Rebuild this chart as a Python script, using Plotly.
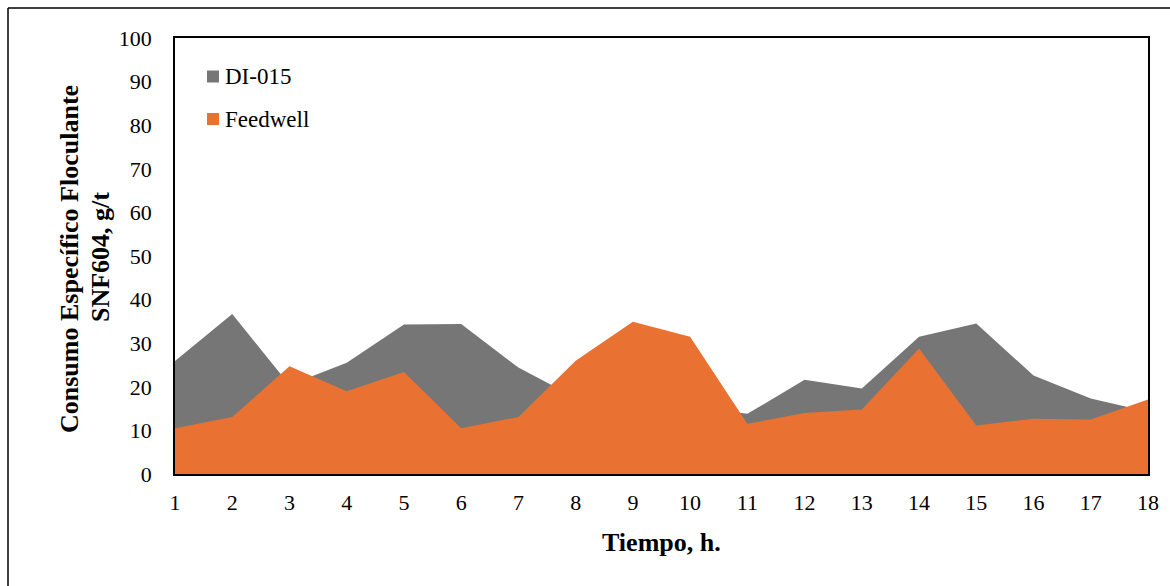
import plotly.graph_objects as go

# Hourly specific flocculant consumption (SNF604, g/t)
hours = list(range(1, 19))
di015 = [25.9, 36.7, 20.4, 25.5, 34.3, 34.4, 24.4, 17.5, 16.5, 15.5,
         13.8, 21.6, 19.6, 31.5, 34.5, 22.6, 17.3, 14.3]
feedwell = [10.5, 13.1, 24.7, 19.0, 23.4, 10.5, 13.1, 26.0, 34.9, 31.5,
            11.5, 14.0, 14.8, 28.8, 11.1, 12.7, 12.5, 17.1]

series_names = ["DI-015", "Feedwell"]
series_colors = ["#767676", "#E97132"]

W, H = 1170, 586
L, R, T, B = 175, 22, 38, 112
pw, ph = W - L - R, H - T - B


def px_x(px):
    return (px - L) / pw


def px_y(py):
    return (H - B - py) / ph


font_family = "Liberation Serif, Times New Roman, serif"

fig = go.Figure()
for name, vals, col in zip(series_names, [di015, feedwell], series_colors):
    fig.add_trace(go.Scatter(
        x=hours, y=vals, name=name, mode="lines",
        line=dict(width=0, color=col), fill="tozeroy", fillcolor=col,
        showlegend=False,
    ))

axis_common = dict(
    showline=True, linecolor="black", linewidth=1.5, mirror=True,
    showgrid=False, zeroline=False, ticks="",
    tickfont=dict(family=font_family, size=22, color="black"),
)

fig.update_xaxes(range=[1, 18], tickmode="array", tickvals=hours,
                 ticktext=[str(h) for h in hours], ticklabelstandoff=8,
                 **axis_common)
fig.update_yaxes(range=[0, 100], dtick=10, ticklabelstandoff=17,
                 **axis_common)

shapes = [
    # outer frame (left and top edges)
    dict(type="line", xref="paper", yref="paper",
         x0=px_x(8), x1=px_x(8), y0=px_y(8), y1=px_y(H + 5),
         line=dict(color="black", width=1.5)),
    dict(type="line", xref="paper", yref="paper",
         x0=px_x(8), x1=px_x(W + 5), y0=px_y(8), y1=px_y(8),
         line=dict(color="black", width=1.5)),
]

title_font = dict(family=font_family, size=26, color="black")
annotations = [
    dict(text="<b>Tiempo, h.</b>", xref="paper", yref="paper",
         x=0.5, y=px_y(542), showarrow=False, xanchor="center",
         yanchor="middle", font=title_font),
    dict(text="<b>Consumo Específico Floculante</b>",
         xref="paper", yref="paper", x=px_x(69), y=px_y(259),
         showarrow=False, textangle=-90, xanchor="center", yanchor="middle",
         font=title_font),
    dict(text="<b>SNF604, g/t</b>",
         xref="paper", yref="paper", x=px_x(100), y=px_y(257),
         showarrow=False, textangle=-90, xanchor="center", yanchor="middle",
         font=title_font),
]

# legend entries: coloured square + label
legend_y = [76.5, 119]
for name, col, ly in zip(series_names, series_colors, legend_y):
    shapes.append(dict(type="rect", xref="paper", yref="paper",
                       x0=px_x(207), x1=px_x(219),
                       y0=px_y(ly + 6), y1=px_y(ly - 6),
                       fillcolor=col, line=dict(width=0)))
    annotations.append(dict(text=name, xref="paper", yref="paper",
                            x=px_x(223), y=px_y(ly), showarrow=False,
                            xanchor="left", yanchor="middle",
                            font=dict(family=font_family, size=23, color="black")))

fig.update_layout(
    width=W, height=H,
    margin=dict(l=L, r=R, t=T, b=B),
    paper_bgcolor="white", plot_bgcolor="white",
    shapes=shapes, annotations=annotations,
    showlegend=False,
)

fig.write_html("out.html")
